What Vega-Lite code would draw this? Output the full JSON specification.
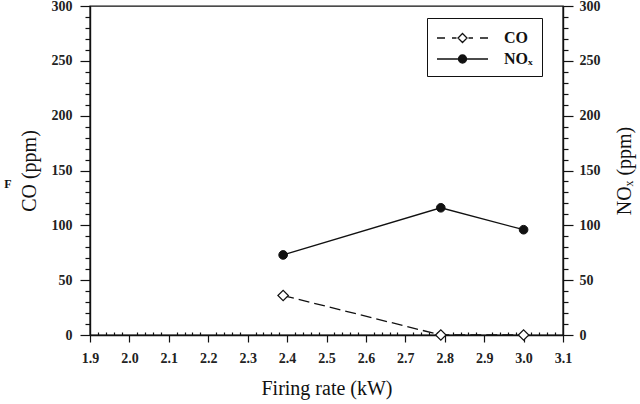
{
  "$schema": "https://vega.github.io/schema/vega-lite/v6.json",
  "width": 473,
  "height": 329,
  "autosize": "none",
  "padding": {"left": 90, "top": 6, "right": 77, "bottom": 69},
  "background": "white",
  "config": {
    "font": "Liberation Serif",
    "view": {"stroke": "#111", "strokeWidth": 1.4},
    "axis": {
      "domainColor": "#111",
      "domainWidth": 1.4,
      "tickColor": "#111",
      "tickWidth": 1.2,
      "grid": false,
      "labelFont": "Liberation Serif",
      "labelFontSize": 14,
      "labelFontWeight": "bold",
      "labelColor": "#222",
      "labelFlush": false,
      "labelOverlap": false,
      "labelBound": false,
      "titleFont": "Liberation Serif",
      "titleFontSize": 20,
      "titleFontWeight": "normal",
      "titleColor": "#111"
    },
    "legend": {
      "orient": "none",
      "legendX": 337,
      "legendY": 12,
      "strokeColor": "#111",
      "padding": 9,
      "symbolSize": 400,
      "symbolStrokeWidth": 1.3,
      "labelOffset": 46,
      "rowPadding": 2,
      "labelFont": "Liberation Serif",
      "labelFontSize": 16,
      "labelFontWeight": "bold",
      "labelColor": "#111"
    }
  },
  "data": {
    "values": [
      {"series": "CO", "rate": 2.39, "ppm": 36},
      {"series": "CO", "rate": 2.79, "ppm": 0},
      {"series": "CO", "rate": 3.0, "ppm": 0},
      {"series": "NOₓ", "rate": 2.39, "ppm": 73},
      {"series": "NOₓ", "rate": 2.79, "ppm": 116},
      {"series": "NOₓ", "rate": 3.0, "ppm": 96}
    ]
  },
  "encoding": {
    "x": {
      "field": "rate",
      "type": "quantitative",
      "scale": {"domain": [1.9, 3.1], "nice": false, "zero": false},
      "axis": {
        "title": "Firing rate (kW)",
        "titleFontWeight": "normal",
        "titlePadding": 13,
        "values": [1.9,1.92,1.94,1.96,1.98,2.0,2.02,2.04,2.06,2.08,2.1,2.12,2.14,2.16,2.18,2.2,2.22,2.24,2.26,2.28,2.3,2.32,2.34,2.36,2.38,2.4,2.42,2.44,2.46,2.48,2.5,2.52,2.54,2.56,2.58,2.6,2.62,2.64,2.66,2.68,2.7,2.72,2.74,2.76,2.78,2.8,2.82,2.84,2.86,2.88,2.9,2.92,2.94,2.96,2.98,3.0,3.02,3.04,3.06,3.08,3.1],
        "labelExpr": "abs(datum.value * 10 - round(datum.value * 10)) < 0.01 ? format(datum.value, '.1f') : ''",
        "tickSize": {"condition": {"test": "abs(datum.value * 10 - round(datum.value * 10)) < 0.01", "value": 7}, "value": -3},
        "labelPadding": 9,
        "encode": {"labels": {"update": {"font": {"value": "Liberation Serif"}, "fontWeight": {"value": "bold"}}}}
      }
    }
  },
  "layer": [
    {
      "transform": [{"filter": "datum.series == 'CO'"}],
      "encoding": {
        "y": {
          "field": "ppm",
          "type": "quantitative",
          "scale": {"domain": [0, 300], "nice": false},
          "axis": {
            "orient": "left",
            "title": "CO (ppm)",
            "titlePadding": 12,
            "values": [0,10,20,30,40,50,60,70,80,90,100,110,120,130,140,150,160,170,180,190,200,210,220,230,240,250,260,270,280,290,300],
            "labelExpr": "datum.value % 50 == 0 ? datum.label : ''",
            "tickSize": {"condition": {"test": "datum.value % 50 == 0", "value": 10}, "value": 5},
            "labelPadding": 8,
            "encode": {"labels": {"update": {"font": {"value": "Liberation Serif"}, "fontWeight": {"value": "bold"}}}}
          }
        }
      },
      "layer": [
        {
          "mark": {"type": "line", "strokeDash": [11, 5], "strokeWidth": 1.3},
          "encoding": {
            "color": {
              "field": "series",
              "type": "nominal",
              "scale": {"domain": ["CO", "NOₓ"], "range": ["#111", "#111"]},
              "legend": {
                "title": null,
                "encode": {
                  "symbols": {
                    "update": {
                      "shape": {"signal": "datum.value === 'CO' ? 'M-1,0H-0.2M0.5,0H0.95M1.55,-0.45L2,0L1.55,0.45L1.1,0ZM2.15,0H2.6M3.3,0H4.1' : 'M-1,0H4.1M1.95,0A0.4,0.4 0 1,1 1.15,0A0.4,0.4 0 1,1 1.95,0Z'"},
                      "fill": {"signal": "datum.value === 'CO' ? 'white' : '#111'"},
                      "fillOpacity": {"value": 1},
                      "stroke": {"value": "#111"},
                      "strokeWidth": {"value": 1.3}
                    }
                  }
                }
              }
            }
          }
        },
        {
          "mark": {"type": "point", "shape": "diamond", "filled": true, "fill": "white", "stroke": "#111", "strokeWidth": 1.2, "size": 110, "opacity": 1}
        }
      ]
    },
    {
      "transform": [{"filter": "datum.series == 'NOₓ'"}],
      "encoding": {
        "y": {
          "field": "ppm",
          "type": "quantitative",
          "scale": {"domain": [0, 300], "nice": false},
          "axis": {
            "orient": "right",
            "title": "NOₓ (ppm)",
            "titleAngle": 270,
            "titleBaseline": "top",
            "titlePadding": 14,
            "values": [0,10,20,30,40,50,60,70,80,90,100,110,120,130,140,150,160,170,180,190,200,210,220,230,240,250,260,270,280,290,300],
            "labelExpr": "datum.value % 50 == 0 ? datum.label : ''",
            "tickSize": {"condition": {"test": "datum.value % 50 == 0", "value": 10}, "value": 5},
            "labelPadding": 6,
            "encode": {"labels": {"update": {"font": {"value": "Liberation Serif"}, "fontWeight": {"value": "bold"}}}}
          }
        }
      },
      "layer": [
        {
          "mark": {"type": "line", "strokeWidth": 1.3},
          "encoding": {
            "color": {"field": "series", "type": "nominal"}
          }
        },
        {
          "mark": {"type": "point", "shape": "circle", "filled": true, "fill": "#111", "stroke": "#111", "strokeWidth": 1, "size": 75, "opacity": 1}
        }
      ]
    },
    {
      "data": {"values": [{"rate": 1.692, "ppm": 137.7, "t": "F"}]},
      "mark": {"type": "text", "font": "Liberation Serif", "fontSize": 12, "fontWeight": "bold", "color": "#111"},
      "encoding": {
        "y": {"field": "ppm", "type": "quantitative", "scale": {"domain": [0, 300], "nice": false}, "axis": null},
        "text": {"field": "t"}
      }
    }
  ],
  "resolve": {"scale": {"y": "independent"}}
}
